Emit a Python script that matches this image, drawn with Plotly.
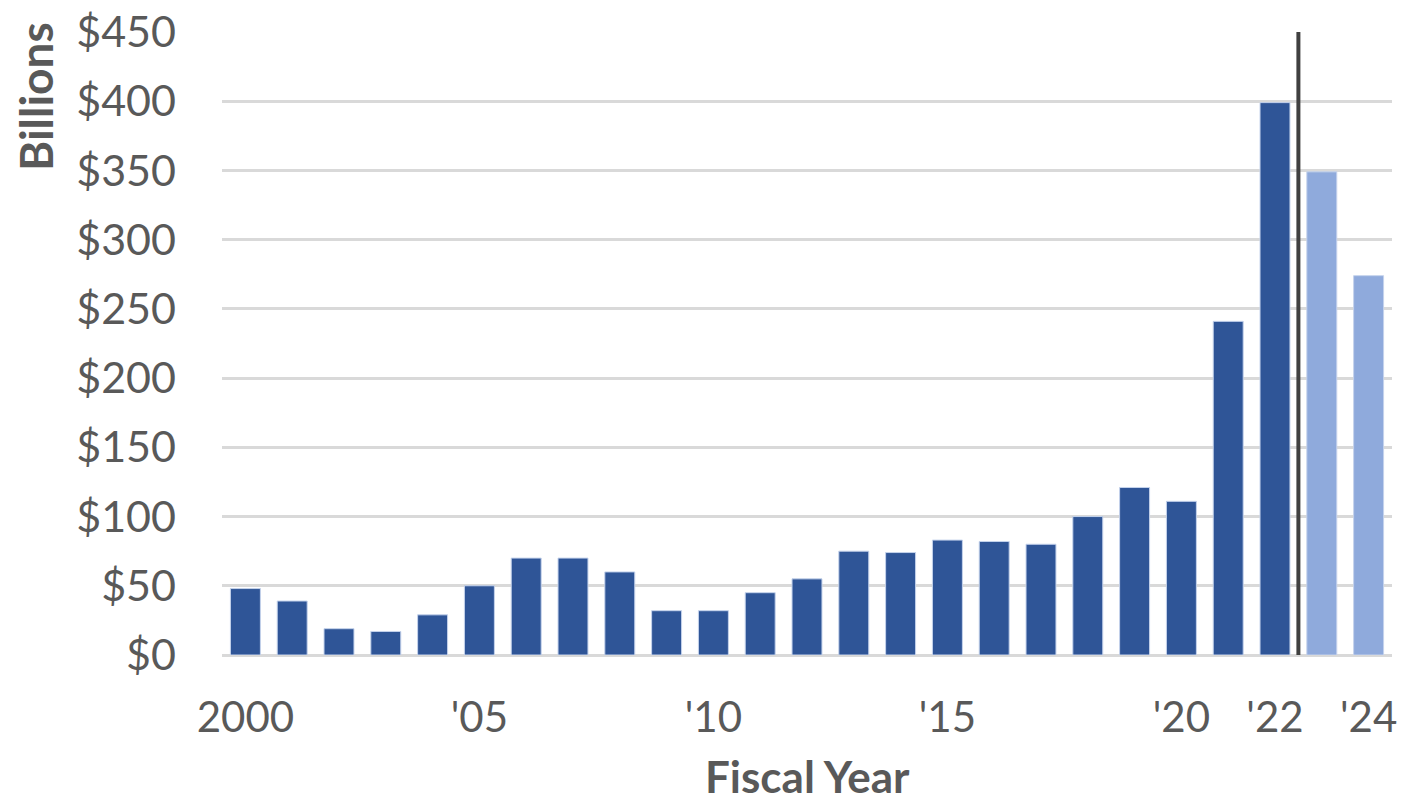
import plotly.graph_objects as go

years = list(range(2000, 2025))
values = [48, 39, 19, 17, 29, 50, 70, 70, 60, 32, 32, 45, 55, 75, 74, 83, 82, 80, 100, 121, 111, 241, 399, 349, 274]
projected_from = 2023
tick_vals = [2000, 2005, 2010, 2015, 2020, 2022, 2024]
tick_text = ["2000", "'05", "'10", "'15", "'20", "'22", "'24"]
y_ticks = list(range(0, 451, 50))
y_text = [f"${v}" for v in y_ticks]

colors = ["#2F5597" if y < projected_from else "#8FAADC" for y in years]

fig = go.Figure()
fig.add_trace(go.Bar(
    x=years, y=values,
    marker=dict(color=colors, line=dict(color="#c5d3ec", width=1)),
    width=0.64,
    hoverinfo="x+y",
))
fig.add_shape(type="line", x0=projected_from - 0.5, x1=projected_from - 0.5,
              y0=0, y1=450, xref="x", yref="y",
              line=dict(color="#404040", width=4), layer="above")

font_family = "Lato, 'Open Sans', sans-serif"
label_color = "#595959"

fig.add_annotation(
    text="<b>Billions</b>", xref="paper", yref="paper",
    x=(35 - 222) / 1170, y=(655 - 97) / 623,
    xanchor="center", yanchor="middle", textangle=-90, showarrow=False,
    font=dict(family=font_family, size=46, color=label_color),
)
fig.add_annotation(
    text="<b>Fiscal Year</b>", xref="paper", yref="paper",
    x=0.5, y=(655 - 776) / 623,
    xanchor="center", yanchor="middle", showarrow=False,
    font=dict(family=font_family, size=44, color=label_color),
)

fig.update_layout(
    width=1404, height=801,
    margin=dict(l=222, r=12, t=32, b=146),
    paper_bgcolor="white", plot_bgcolor="white",
    showlegend=False,
    bargap=0.36,
    font=dict(family=font_family, color=label_color, size=42),
    xaxis=dict(
        range=[1999.5, 2024.5], automargin=False,
        tickvals=tick_vals, ticktext=tick_text,
        showgrid=False, zeroline=False, showline=False,
        ticks="", ticklabelstandoff=34,
        tickfont=dict(size=42, color=label_color),
    ),
    yaxis=dict(
        range=[0, 450], automargin=False,
        tickvals=y_ticks, ticktext=y_text,
        showgrid=True, gridcolor="#d9d9d9", gridwidth=3,
        zeroline=True, zerolinecolor="#d9d9d9", zerolinewidth=3,
        showline=False, ticks="", ticklabelstandoff=45,
        tickfont=dict(size=43, color=label_color),
    ),
)

fig.write_html("out.html")
